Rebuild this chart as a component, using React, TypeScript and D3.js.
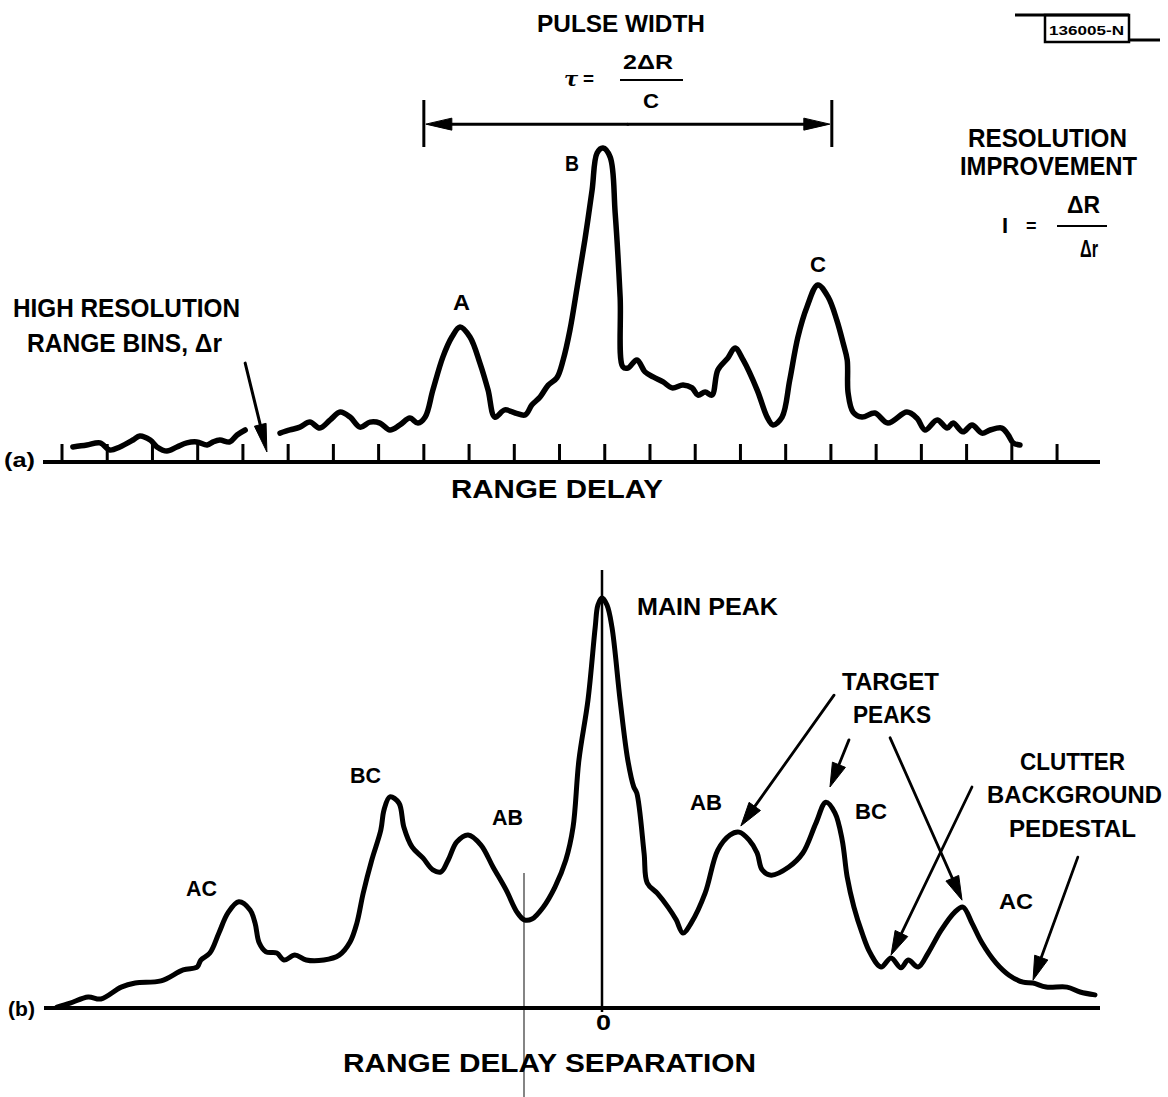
import React, { useEffect } from 'react';
import * as d3 from 'd3';

const W = 1168;
const H = 1097;
const FONT = "'Liberation Sans', Arial, Helvetica, sans-serif";

// ---------- Panel (a): range bin index vs relative amplitude (peak B = 100)
const rangeBinTicks: number[] = d3.range(0, 23);

const delayTraceLeft: [number, number][] = [
  [0.24, 4.8], [0.55, 5.4], [0.84, 6.1], [1.06, 3.8], [1.28, 4.8], [1.57, 7.0],
  [1.72, 8.3], [1.95, 7.0], [2.10, 4.8], [2.32, 3.5], [2.54, 4.8], [2.76, 6.1],
  [2.98, 6.4], [3.21, 5.4], [3.34, 6.4], [3.49, 7.0], [3.71, 6.4], [3.87, 8.6],
  [4.05, 10.2],
];

const delayTraceRight: [number, number][] = [
  [4.82, 9.2], [5.04, 10.2], [5.26, 11.1], [5.48, 12.7], [5.70, 10.8], [5.93, 13.4],
  [6.15, 15.9], [6.37, 14.3], [6.59, 11.1], [6.81, 12.7], [7.03, 12.4], [7.25, 10.2],
  [7.47, 11.8], [7.69, 14.0], [7.87, 12.4], [8.03, 14.3], [8.20, 22.9], [8.42, 33.4],
  [8.62, 39.8], [8.80, 43.0], [9.02, 39.8], [9.24, 31.5], [9.42, 22.9], [9.57, 14.3],
  [9.79, 16.6], [10.02, 15.6], [10.24, 15.0], [10.39, 18.2], [10.57, 20.7], [10.75, 24.5],
  [10.94, 26.8], [11.08, 32.5], [11.23, 42.0], [11.39, 55.7], [11.56, 70.7], [11.72, 86.6],
  [11.83, 98.4], [11.96, 100], [12.12, 97.1], [12.23, 79.3], [12.34, 52.5], [12.40, 30.3],
  [12.51, 29.9], [12.71, 32.5], [12.89, 28.7], [13.07, 27.1], [13.29, 25.5], [13.49, 23.6],
  [13.73, 24.5], [13.93, 23.6], [14.06, 21.3], [14.22, 22.3], [14.37, 21.3], [14.50, 29.3],
  [14.72, 33.1], [14.88, 36.3], [15.06, 32.5], [15.37, 22.9], [15.59, 14.3], [15.72, 11.8],
  [15.92, 14.3], [16.09, 26.1], [16.27, 39.8], [16.47, 49.4], [16.71, 56.4], [16.94, 52.5],
  [17.13, 45.2], [17.27, 37.9], [17.36, 32.5], [17.38, 22.0], [17.49, 15.9], [17.69, 14.3],
  [17.97, 15.6], [18.26, 12.4], [18.68, 15.9], [18.90, 14.0], [19.08, 10.2], [19.35, 13.4],
  [19.57, 10.8], [19.70, 12.4], [19.92, 9.6], [20.12, 11.8], [20.34, 9.2], [20.52, 10.2],
  [20.78, 10.8], [20.92, 8.6], [21.03, 6.1], [21.18, 5.4],
];

// ---------- Panel (b): range delay separation (bins) vs relative amplitude (main peak = 100)
const separationTrace: [number, number][] = [
  [-12.05, 0.2], [-11.76, 1.2], [-11.36, 2.7], [-11.08, 2.2], [-10.63, 5.1], [-10.32, 6.1],
  [-9.75, 6.6], [-9.26, 9.3], [-8.95, 10.0], [-8.87, 11.7], [-8.67, 13.4], [-8.47, 18.3],
  [-8.27, 23.2], [-8.03, 25.9], [-7.78, 23.9], [-7.67, 20.7], [-7.58, 15.9], [-7.43, 13.7],
  [-7.19, 13.4], [-7.03, 11.7], [-6.79, 12.9], [-6.54, 11.7], [-6.15, 11.7], [-5.81, 12.9],
  [-5.57, 16.1], [-5.42, 20.7], [-5.28, 28.0], [-5.09, 36.1], [-4.89, 43.4], [-4.82, 48.3],
  [-4.69, 51.5], [-4.49, 50.0], [-4.38, 44.1], [-4.20, 39.3], [-3.96, 36.6], [-3.74, 33.7],
  [-3.56, 33.2], [-3.40, 36.1], [-3.21, 40.5], [-2.96, 42.2], [-2.68, 39.8], [-2.41, 34.4],
  [-2.12, 28.8], [-1.88, 23.4], [-1.72, 21.5], [-1.55, 21.7], [-1.30, 24.6], [-1.04, 29.5],
  [-0.80, 36.1], [-0.64, 44.1], [-0.51, 60.5], [-0.31, 75.1], [-0.15, 92.9], [-0.09, 98.3],
  [0, 100], [0.11, 98.3], [0.22, 92.9], [0.40, 75.1], [0.57, 60.5], [0.70, 54.0],
  [0.77, 52.4], [0.93, 37.8], [1.00, 30.5], [1.22, 28.0], [1.46, 24.6], [1.64, 21.5],
  [1.79, 18.3], [1.97, 20.7], [2.28, 28.0], [2.56, 38.5], [2.83, 42.2], [3.03, 42.9],
  [3.25, 41.0], [3.43, 37.8], [3.54, 33.7], [3.74, 32.4], [4.13, 34.4], [4.44, 37.8],
  [4.73, 45.1], [4.95, 50.2], [5.15, 47.6], [5.31, 41.0], [5.42, 32.0], [5.57, 24.6],
  [5.75, 18.3], [5.93, 13.4], [6.17, 10.0], [6.39, 12.2], [6.61, 9.8], [6.77, 11.7],
  [6.99, 10.0], [7.21, 13.4], [7.50, 19.0], [7.80, 23.4], [7.98, 24.6], [8.18, 20.7],
  [8.40, 15.9], [8.71, 11.0], [9.00, 8.0], [9.31, 6.3], [9.53, 6.1], [9.82, 5.1],
  [10.28, 5.1], [10.57, 3.9], [10.90, 3.2],
];

// annotation arrows, panel (b): [tailSep, tailAmp, tipSep, tipAmp]
const targetArrows: [number, number, number, number][] = [
  [5.13, 76.3, 3.07, 44.4],
  [5.46, 65.4, 5.04, 53.9],
  [6.37, 65.9, 7.96, 26.3],
];
const clutterArrows: [number, number, number, number][] = [
  [8.18, 53.9, 6.39, 12.9],
  [10.52, 36.8, 9.53, 6.8],
];

// ---------- scales
const BIN_PX = 45.23;
const xTop = d3.scaleLinear().domain([0, 22]).range([62, 62 + 22 * BIN_PX]);
const yTop = d3.scaleLinear().domain([0, 100]).range([462, 148]);
const xBot = d3.scaleLinear().domain([0, 11]).range([602, 602 + 11 * BIN_PX]);
const yBot = d3.scaleLinear().domain([0, 100]).range([1008, 598]);

const lineTop = d3
  .line<[number, number]>()
  .x((d) => xTop(d[0]))
  .y((d) => yTop(d[1]))
  .curve(d3.curveCatmullRom.alpha(0.5));
const lineBot = d3
  .line<[number, number]>()
  .x((d) => xBot(d[0]))
  .y((d) => yBot(d[1]))
  .curve(d3.curveCatmullRom.alpha(0.5));

function Arrow({ x1, y1, x2, y2, len = 24, hw = 7, sw = 3 }: any) {
  const dx = x2 - x1;
  const dy = y2 - y1;
  const L = Math.hypot(dx, dy);
  const ux = dx / L;
  const uy = dy / L;
  const bx = x2 - ux * len;
  const by = y2 - uy * len;
  const px = -uy;
  const py = ux;
  const pts = `${x2},${y2} ${bx + px * hw},${by + py * hw} ${bx - px * hw},${by - py * hw}`;
  return (
    <g>
      <line x1={x1} y1={y1} x2={bx + ux * 4} y2={by + uy * 4} stroke="#000" strokeWidth={sw} strokeLinecap="round" />
      <polygon points={pts} fill="#000" stroke="#000" strokeWidth={1} strokeLinejoin="round" />
    </g>
  );
}

function T({ x, y, size, w, children, italic }: any) {
  return (
    <text
      x={x}
      y={y}
      fontFamily={FONT}
      fontWeight="bold"
      fontSize={size}
      fontStyle={italic ? 'italic' : 'normal'}
      textLength={w}
      lengthAdjust={w ? 'spacingAndGlyphs' : undefined}
      fill="#000"
    >
      {children}
    </text>
  );
}

export default function App() {
  useEffect(() => {
    document.body.style.margin = '0';
  }, []);

  const pulseL = xTop(8);
  const pulseR = xTop(17.02);
  const pulseY = yTop(107.6);

  return (
    <svg width={W} height={H} viewBox={`0 0 ${W} ${H}`} style={{ display: 'block', background: '#fff' }}>
      <rect x={0} y={0} width={W} height={H} fill="#fff" />

      {/* ---------------- Panel (a) ---------------- */}
      {/* report id box */}
      <line x1={1015} y1={15} x2={1129} y2={15} stroke="#000" strokeWidth={3} />
      <rect x={1045} y={15} width={84} height={27} fill="none" stroke="#000" strokeWidth={2.5} />
      <line x1={1129} y1={40} x2={1160} y2={40} stroke="#000" strokeWidth={3} />
      <T x={1049} y={35} size={13} w={75}>136005-N</T>

      <T x={537} y={32} size={23} w={168}>PULSE WIDTH</T>
      <text x={564} y={86} fontFamily="'DejaVu Serif', serif" fontStyle="italic" fontWeight="bold" fontSize={21}>τ</text>
      <T x={583} y={85} size={18} w={11}>=</T>
      <T x={623} y={69} size={20} w={50}>2ΔR</T>
      <line x1={620} y1={80} x2={683} y2={80} stroke="#000" strokeWidth={2.2} />
      <T x={643} y={108} size={20} w={16}>C</T>

      {/* pulse width dimension arrow */}
      <line x1={pulseL} y1={100} x2={pulseL} y2={147} stroke="#000" strokeWidth={3} />
      <line x1={pulseR} y1={100} x2={pulseR} y2={147} stroke="#000" strokeWidth={3} />
      <Arrow x1={(pulseL + pulseR) / 2} y1={pulseY} x2={pulseL + 2} y2={pulseY} len={26} hw={6} sw={3} />
      <Arrow x1={(pulseL + pulseR) / 2} y1={pulseY} x2={pulseR - 2} y2={pulseY} len={26} hw={6} sw={3} />

      <T x={968} y={147} size={25} w={159}>RESOLUTION</T>
      <T x={960} y={175} size={25} w={177}>IMPROVEMENT</T>
      <T x={1002} y={233} size={22}>I</T>
      <T x={1026} y={232} size={18}>=</T>
      <T x={1067} y={213} size={23} w={33}>ΔR</T>
      <line x1={1057} y1={226} x2={1107} y2={226} stroke="#000" strokeWidth={2.2} />
      <T x={1080} y={257} size={23} w={18}>Δr</T>

      <T x={13} y={317} size={26} w={227}>HIGH RESOLUTION</T>
      <T x={27} y={352} size={26} w={195}>RANGE BINS, Δr</T>
      <Arrow x1={xTop(4.05)} y1={yTop(31.5)} x2={xTop(4.53)} y2={yTop(3.2)} len={28} hw={6} sw={3} />

      <T x={565} y={171} size={22} w={14}>B</T>
      <T x={453} y={310} size={22} w={17}>A</T>
      <T x={810} y={272} size={22} w={16}>C</T>

      {/* axis (a) */}
      <line x1={43} y1={yTop(0)} x2={1100} y2={yTop(0)} stroke="#000" strokeWidth={4} />
      {rangeBinTicks.map((t) => (
        <line key={t} x1={xTop(t)} y1={yTop(0)} x2={xTop(t)} y2={yTop(0) - 18} stroke="#000" strokeWidth={3} />
      ))}
      <path d={lineTop(delayTraceLeft) || ''} fill="none" stroke="#000" strokeWidth={5.5} strokeLinejoin="round" strokeLinecap="round" />
      <path d={lineTop(delayTraceRight) || ''} fill="none" stroke="#000" strokeWidth={5.5} strokeLinejoin="round" strokeLinecap="round" />
      <T x={4} y={467} size={20} w={31}>(a)</T>
      <T x={451} y={498} size={25} w={212}>RANGE DELAY</T>

      {/* ---------------- Panel (b) ---------------- */}
      <line x1={xBot(0)} y1={570} x2={xBot(0)} y2={1012} stroke="#000" strokeWidth={2.5} />
      <line x1={524} y1={873} x2={524} y2={1097} stroke="#333" strokeWidth={1.2} />
      <line x1={44} y1={yBot(0)} x2={1100} y2={yBot(0)} stroke="#000" strokeWidth={4} />
      <path d={lineBot(separationTrace) || ''} fill="none" stroke="#000" strokeWidth={5} strokeLinejoin="round" strokeLinecap="round" />

      {targetArrows.map((a, i) => (
        <Arrow key={`t${i}`} x1={xBot(a[0])} y1={yBot(a[1])} x2={xBot(a[2])} y2={yBot(a[3])} len={24} hw={7} sw={2.8} />
      ))}
      {clutterArrows.map((a, i) => (
        <Arrow key={`c${i}`} x1={xBot(a[0])} y1={yBot(a[1])} x2={xBot(a[2])} y2={yBot(a[3])} len={24} hw={7} sw={2.8} />
      ))}

      <T x={637} y={615} size={23} w={141}>MAIN PEAK</T>
      <T x={186} y={896} size={22} w={31}>AC</T>
      <T x={350} y={783} size={22} w={31}>BC</T>
      <T x={492} y={825} size={22} w={31}>AB</T>
      <T x={690} y={810} size={22} w={32}>AB</T>
      <T x={855} y={819} size={22} w={32}>BC</T>
      <T x={999} y={909} size={22} w={34}>AC</T>
      <T x={842} y={690} size={23} w={97}>TARGET</T>
      <T x={853} y={723} size={23} w={78}>PEAKS</T>
      <T x={1020} y={770} size={23} w={105}>CLUTTER</T>
      <T x={987} y={803} size={23} w={175}>BACKGROUND</T>
      <T x={1009} y={837} size={23} w={127}>PEDESTAL</T>
      <T x={596} y={1030} size={22} w={15}>0</T>
      <T x={8} y={1016} size={20} w={27}>(b)</T>
      <T x={343} y={1072} size={26} w={413}>RANGE DELAY SEPARATION</T>
    </svg>
  );
}
